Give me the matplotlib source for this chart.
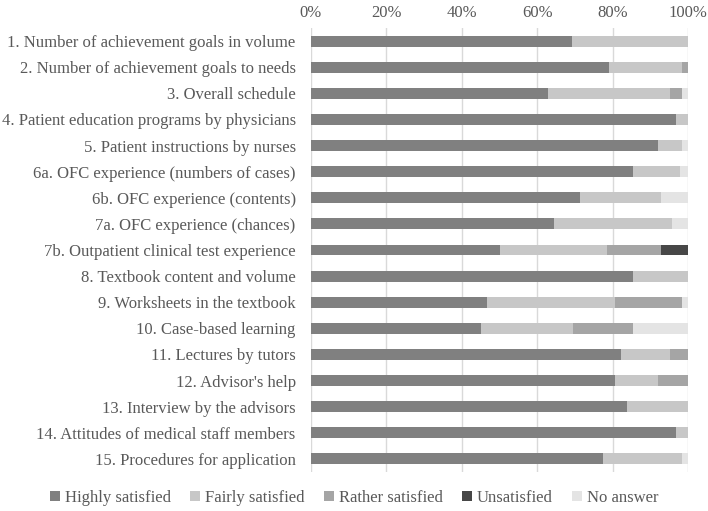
import matplotlib
matplotlib.use("Agg")
import matplotlib.pyplot as plt
import numpy as np

plt.rcParams['font.family'] = ['Liberation Serif', 'DejaVu Serif']

# Survey items (top to bottom)
items = [
    "1. Number of achievement goals in volume",
    "2. Number of achievement goals to needs",
    "3. Overall schedule",
    "4. Patient education programs by physicians",
    "5. Patient instructions by nurses",
    "6a. OFC experience (numbers of cases)",
    "6b. OFC experience (contents)",
    "7a. OFC experience (chances)",
    "7b. Outpatient clinical test experience",
    "8. Textbook content and volume",
    "9. Worksheets in the textbook",
    "10. Case-based learning",
    "11. Lectures by tutors",
    "12. Advisor's help",
    "13. Interview by the advisors",
    "14. Attitudes of medical staff members",
    "15. Procedures for application",
]

# Percent of responses per category
highly = [69.3, 79.0, 62.9, 96.7, 92.0, 85.4, 71.4, 64.5, 50.0, 85.5,
          46.7, 45.2, 82.2, 80.6, 83.9, 96.7, 77.4]
fairly = [30.7, 19.4, 32.3, 3.3, 6.4, 12.5, 21.5, 31.3, 28.5, 14.5,
          33.9, 24.2, 13.0, 11.4, 16.1, 3.3, 21.0]
rather = [0, 1.6, 3.2, 0, 0, 0, 0, 0, 14.4, 0,
          17.8, 16.0, 4.8, 8.0, 0, 0, 0]
unsatisfied = [0, 0, 0, 0, 0, 0, 0, 0, 7.1, 0,
               0, 0, 0, 0, 0, 0, 0]
no_answer = [0, 0, 1.6, 0, 1.6, 2.1, 7.1, 4.2, 0, 0,
             1.6, 14.6, 0, 0, 0, 0, 1.6]

series = [
    ("Highly satisfied", highly, "#808080"),
    ("Fairly satisfied", fairly, "#c7c7c7"),
    ("Rather satisfied", rather, "#a5a5a5"),
    ("Unsatisfied", unsatisfied, "#474747"),
    ("No answer", no_answer, "#e4e4e4"),
]

fig = plt.figure(figsize=(7.08, 5.11), dpi=100)
ax = fig.add_axes([311 / 708, 1 - 472 / 511, 377 / 708, 444 / 511])

y = np.arange(len(items))
left = np.zeros(len(items))
for name, vals, color in series:
    vals = np.array(vals)
    ax.barh(y, vals, left=left, height=0.42, color=color, label=name)
    left += vals

ax.set_ylim(len(items) - 0.5, -0.5)
ax.set_xlim(0, 100)
ax.set_xticks(np.arange(0, 101, 20))
ax.set_xticklabels([f"{v}%" for v in range(0, 101, 20)])
ax.xaxis.tick_top()
ax.set_yticks(y)
ax.set_yticklabels(items)
ax.tick_params(axis='both', length=0, labelsize=12, colors="#595959")
ax.tick_params(axis='x', pad=5)
ax.tick_params(axis='y', pad=11)
ax.grid(axis='x', color="#d9d9d9", linewidth=1)
ax.set_axisbelow(True)
for s in ax.spines.values():
    s.set_visible(False)

leg = fig.legend(loc='center', bbox_to_anchor=(0.5, 1 - 498 / 511), ncol=5,
                 frameon=False, fontsize=12, handlelength=0.6, handleheight=0.6,
                 handletextpad=0.3, columnspacing=1.15)
for t in leg.get_texts():
    t.set_color("#595959")

fig.savefig("out.png", dpi=100)
